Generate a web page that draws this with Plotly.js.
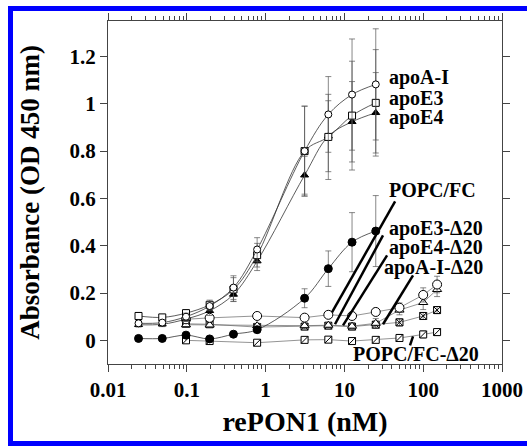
<!DOCTYPE html>
<html>
<head>
<meta charset="utf-8">
<script src="https://cdn.plot.ly/plotly-3.0.1.min.js"></script>
<style>
html,body{margin:0;padding:0;background:#fff;overflow:hidden;width:527px;height:446px;}
#wrap{position:relative;width:527px;height:446px;overflow:hidden;}
#chart{position:absolute;left:0;top:0;width:527px;height:446px;}
.bl{position:absolute;background:#0000ff;pointer-events:none;}
</style>
</head>
<body>
<div id="wrap">
  <div id="chart"></div>
  <div class="bl" style="left:8px;top:6px;width:5px;height:440px;"></div>
  <div class="bl" style="left:8px;top:6px;width:519px;height:5px;"></div>
  <div class="bl" style="left:8px;top:441px;width:519px;height:5px;"></div>
</div>
<script>
// ---- data (rePON1 concentration, nM) ----
const conc = [0.0244, 0.0488, 0.0977, 0.195, 0.391, 0.781, 3.125, 6.25, 12.5, 25];
const concD20 = [0.0977, 0.195, 0.781, 3.125, 6.25, 12.5, 25, 50, 100, 150];

const apoAI   = [0.072, 0.075, 0.100, 0.145, 0.223, 0.384, 0.800, 0.955, 1.039, 1.082];
const apoAIerr= [0.010, 0.010, 0.015, 0.020, 0.050, 0.050, 0.190, 0.160, 0.235, 0.235];
const apoE3   = [0.103, 0.097, 0.115, 0.150, 0.215, 0.360, 0.800, 0.860, 0.950, 1.004];
const apoE3err= [0.015, 0.010, 0.015, 0.020, 0.050, 0.050, 0.190, 0.180, 0.230, 0.225];
const apoE4   = [0.066, 0.068, 0.090, 0.125, 0.194, 0.335, 0.698, 0.863, 0.924, 0.962];
const apoE4err= [0.010, 0.010, 0.010, 0.020, 0.030, 0.040, 0.080, 0.150, 0.170, 0.170];
const popc    = [0.008, 0.008, 0.022, 0.006, 0.026, 0.045, 0.178, 0.303, 0.415, 0.462];
const popcErr = [0.005, 0.005, 0.005, 0.005, 0.005, 0.010, 0.040, 0.075, 0.125, 0.150];

const apoE3D20   = [0.089, 0.095, 0.103, 0.096, 0.108, 0.103, 0.120, 0.138, 0.192, 0.236];
const apoE3D20err= [0.010, 0.010, 0.010, 0.010, 0.010, 0.010, 0.015, 0.020, 0.030, 0.035];
const apoE4D20   = [0.066, 0.065, 0.062, 0.062, 0.064, 0.060, 0.072, 0.128, 0.160, 0.215];
const apoE4D20err= [0.010, 0.010, 0.010, 0.010, 0.010, 0.015, 0.020, 0.020, 0.030, 0.030];
const apoAID20   = [0.070, 0.068, 0.056, 0.058, 0.062, 0.058, 0.066, 0.076, 0.103, 0.128];
const apoAID20err= [0.010, 0.010, 0.010, 0.010, 0.010, 0.010, 0.015, 0.015, 0.015, 0.015];
const popcD20    = [0.000, -0.003, -0.010, 0.002, 0.003, -0.003, 0.002, 0.010, 0.025, 0.035];
const popcD20err = [0.005, 0.005, 0.005, 0.005, 0.005, 0.005, 0.010, 0.015, 0.015, 0.015];

const xTickVals = [0.01, 0.1, 1, 10, 100, 1000];
const xTickText = ['0.01', '0.1', '1', '10', '100', '1000'];
const yTickVals = [0, 0.2, 0.4, 0.6, 0.8, 1, 1.2];
const yTickText = ['0', '0.2', '0.4', '0.6', '0.8', '1', '1.2'];

// label annotations: [text, x (nM), y]
const labels = [
  ['apoA-I', 34.8, 1.110],
  ['apoE3', 34.8, 1.024],
  ['apoE4', 34.8, 0.940],
  ['POPC/FC', 34.8, 0.634],
  ['apoE3-Δ20', 34.8, 0.471],
  ['apoE4-Δ20', 34.8, 0.391],
  ['apoA-I-Δ20', 30.2, 0.306],
  ['POPC/FC-Δ20', 12.0, -0.059]
];
// pointer lines: [x0 (nM), y0, x1 (nM), y1]
const pointers = [
  [44.0, 0.587, 6.95, 0.118],
  [30.9, 0.444, 7.6, 0.068],
  [34.8, 0.359, 9.6, 0.063],
  [74.3, 0.275, 30.9, 0.068],
  [74.3, 0.017, 68.0, -0.021]
];

const FONT = 'Liberation Serif, Times New Roman, serif';
const errStyle = (arr) => ({type:'data', array:arr, visible:true, color:'#555', thickness:0.7, width:3});

function curve(x, y, err, symbol, size, fillColor) {
  return {
    x: x, y: y, error_y: errStyle(err), mode: 'lines+markers', type: 'scatter',
    line: {shape:'spline', smoothing:1, color:'#333', width:0.8},
    marker: {symbol: symbol, size: size, color: fillColor, line:{color:'#000', width:1}},
    showlegend: false, hoverinfo: 'skip'
  };
}
function seg(x, y, err, symbol, size, fillColor) {
  return {
    x: x, y: y, error_y: errStyle(err), mode: 'lines+markers', type: 'scatter',
    line: {shape:'linear', color:'#666', width:0.7},
    marker: {symbol: symbol, size: size, color: fillColor, line:{color:'#000', width:1}},
    showlegend: false, hoverinfo: 'skip'
  };
}

const traces = [
  seg(concD20, popcD20, popcD20err, 'square', 7, '#fff'),
  {x: concD20, y: popcD20, mode:'markers', type:'scatter', showlegend:false, hoverinfo:'skip',
   marker:{symbol:'line-ne', size:7, line:{color:'#000', width:1}}},
  seg(concD20, apoAID20, apoAID20err, 'square-x-open', 7, '#000'),
  seg(concD20, apoE4D20, apoE4D20err, 'triangle-up', 8, '#fff'),
  seg(concD20, apoE3D20, apoE3D20err, 'circle', 9, '#fff'),
  curve(conc, popc, popcErr, 'circle', 8, '#000'),
  curve(conc, apoE4, apoE4err, 'triangle-up', 7, '#000'),
  curve(conc, apoE3, apoE3err, 'square', 7, '#fff'),
  curve(conc, apoAI, apoAIerr, 'circle', 7, '#fff')
];

const annotations = labels.map(l => ({
  text: l[0], x: Math.log10(l[1]), y: l[2], xref:'x', yref:'y',
  xanchor:'left', yanchor:'middle', showarrow:false,
  font:{family:FONT, size:20, color:'#000', weight:700}
}));

const shapes = pointers.map(p => ({
  type:'line', xref:'x', yref:'y',
  x0: p[0], y0: p[1], x1: p[2], y1: p[3],
  line:{color:'#000', width:2.5}
}));

const layout = {
  width: 527, height: 446,
  margin: {l:108, r:25, t:21, b:82},
  paper_bgcolor:'#fff', plot_bgcolor:'#fff',
  font: {family: FONT, size: 21, color:'#000', weight:700},
  showlegend: false,
  xaxis: {
    type:'log', range:[-2, 3], autorange:false,
    tickvals: xTickVals, ticktext: xTickText,
    ticks:'outside', ticklen:7, tickwidth:1, tickcolor:'#444',
    minor:{ticks:'outside', ticklen:4, tickwidth:1, tickcolor:'#444', dtick:'D1'},
    showline:true, linecolor:'#444', linewidth:1, mirror:'ticks',
    showgrid:false, zeroline:false,
    tickfont:{family:FONT, size:21, weight:700},
    title:{text:'rePON1 (nM)', font:{family:FONT, size:28, weight:700}, standoff:10}
  },
  yaxis: {
    range:[-0.1, 1.35], autorange:false,
    tickvals: yTickVals, ticktext: yTickText,
    ticks:'outside', ticklen:7, tickwidth:1, tickcolor:'#444',
    showline:true, linecolor:'#444', linewidth:1, mirror:'ticks',
    showgrid:false, zeroline:false,
    tickfont:{family:FONT, size:21, weight:700},
    title:{text:'Absorbance (OD 450 nm)', font:{family:FONT, size:27, weight:700}, standoff:22}
  },
  annotations: annotations,
  shapes: shapes
};

Plotly.newPlot('chart', traces, layout, {staticPlot:true, displayModeBar:false});
</script>
</body>
</html>
